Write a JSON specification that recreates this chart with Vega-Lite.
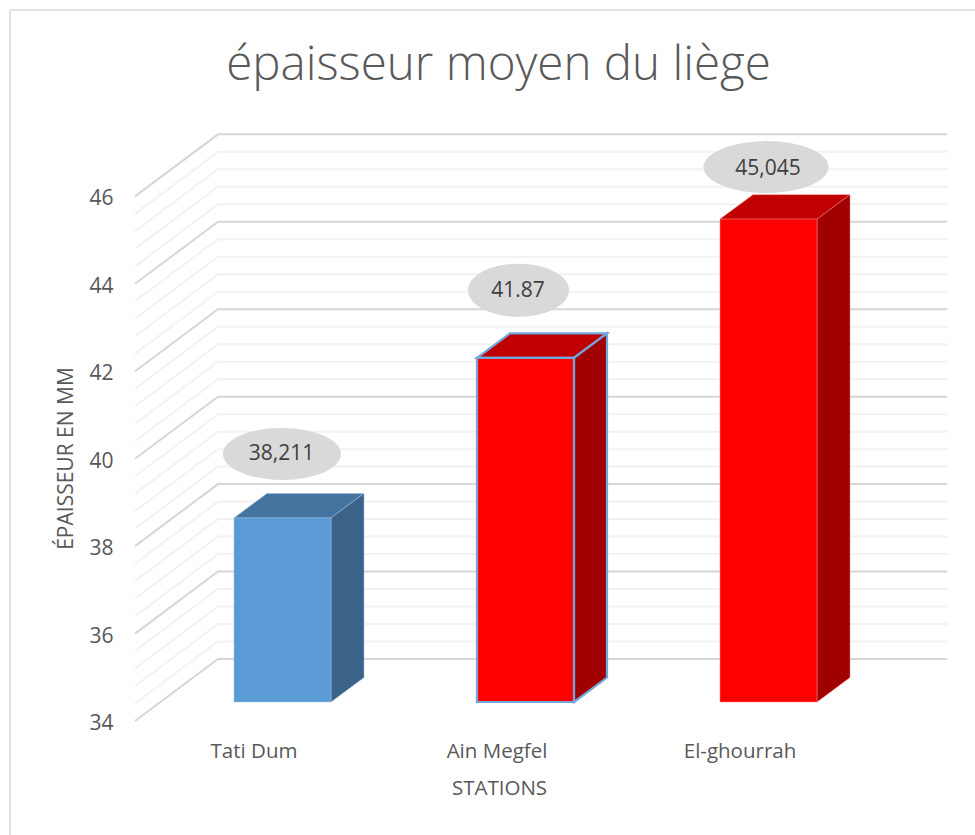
{"$schema":"https://vega.github.io/schema/vega-lite/v6.json","width":965,"height":825,"autosize":"none","padding":{"left":10,"top":10,"right":0,"bottom":0},"background":"white","config":{"view":{"stroke":null},"font":"Open Sans","legend":{"disable":true}},
"title":{"text":"épaisseur moyen du liège","anchor":"middle","frame":"group","dx":6,"dy":48,"offset":-70,"baseline":"alphabetic","fontSize":47.5,"fontWeight":300,"font":"Open Sans","color":"#595959"},
"datasets":{
"bars":[{"station":"Tati Dum","pos":1,"left":0.8004,"right":1.1996,"base":34,"value":38.211,"label":"38,211","part":"Tati Dum front"},{"station":"Ain Megfel","pos":2,"left":1.8004,"right":2.1996,"base":34,"value":41.87,"label":"41.87","part":"Ain Megfel front"},{"station":"El-ghourrah","pos":3,"left":2.8004,"right":3.1996,"base":34,"value":45.045,"label":"45,045","part":"El-ghourrah front"}],
"tops":[{"station":"Tati Dum","part":"Tati Dum top","y":38.211,"xa":0.8004,"xb":1.1996},{"station":"Tati Dum","part":"Tati Dum top","y":38.771,"xa":0.9362,"xb":1.3354},{"station":"Ain Megfel","part":"Ain Megfel top","y":41.87,"xa":1.8004,"xb":2.1996},{"station":"Ain Megfel","part":"Ain Megfel top","y":42.43,"xa":1.9362,"xb":2.3354},{"station":"El-ghourrah","part":"El-ghourrah top","y":45.045,"xa":2.8004,"xb":3.1996},{"station":"El-ghourrah","part":"El-ghourrah top","y":45.605,"xa":2.9362,"xb":3.3354}],
"sides":[{"station":"Tati Dum","part":"Tati Dum side","x":1.1996,"ya":34,"yb":38.211},{"station":"Tati Dum","part":"Tati Dum side","x":1.3354,"ya":34.56,"yb":38.771},{"station":"Ain Megfel","part":"Ain Megfel side","x":2.1996,"ya":34,"yb":41.87},{"station":"Ain Megfel","part":"Ain Megfel side","x":2.3354,"ya":34.56,"yb":42.43},{"station":"El-ghourrah","part":"El-ghourrah side","x":3.1996,"ya":34,"yb":45.045},{"station":"El-ghourrah","part":"El-ghourrah side","x":3.3354,"ya":34.56,"yb":45.605}],
"grid":[
{"g":34,"k":"major","x":0.393,"y":33.565},{"g":34,"k":"major","x":0.7346,"y":34.984},{"g":34,"k":"major","x":3.736,"y":34.984},
{"g":34.4,"k":"minor","x":0.393,"y":33.965},{"g":34.4,"k":"minor","x":0.7346,"y":35.384},{"g":34.4,"k":"minor","x":3.736,"y":35.384},
{"g":34.8,"k":"minor","x":0.393,"y":34.365},{"g":34.8,"k":"minor","x":0.7346,"y":35.784},{"g":34.8,"k":"minor","x":3.736,"y":35.784},
{"g":35.2,"k":"minor","x":0.393,"y":34.765},{"g":35.2,"k":"minor","x":0.7346,"y":36.184},{"g":35.2,"k":"minor","x":3.736,"y":36.184},
{"g":35.6,"k":"minor","x":0.393,"y":35.165},{"g":35.6,"k":"minor","x":0.7346,"y":36.584},{"g":35.6,"k":"minor","x":3.736,"y":36.584},
{"g":36,"k":"major","x":0.393,"y":35.565},{"g":36,"k":"major","x":0.7346,"y":36.984},{"g":36,"k":"major","x":3.736,"y":36.984},
{"g":36.4,"k":"minor","x":0.393,"y":35.965},{"g":36.4,"k":"minor","x":0.7346,"y":37.384},{"g":36.4,"k":"minor","x":3.736,"y":37.384},
{"g":36.8,"k":"minor","x":0.393,"y":36.365},{"g":36.8,"k":"minor","x":0.7346,"y":37.784},{"g":36.8,"k":"minor","x":3.736,"y":37.784},
{"g":37.2,"k":"minor","x":0.393,"y":36.765},{"g":37.2,"k":"minor","x":0.7346,"y":38.184},{"g":37.2,"k":"minor","x":3.736,"y":38.184},
{"g":37.6,"k":"minor","x":0.393,"y":37.165},{"g":37.6,"k":"minor","x":0.7346,"y":38.584},{"g":37.6,"k":"minor","x":3.736,"y":38.584},
{"g":38,"k":"major","x":0.393,"y":37.565},{"g":38,"k":"major","x":0.7346,"y":38.984},{"g":38,"k":"major","x":3.736,"y":38.984},
{"g":38.4,"k":"minor","x":0.393,"y":37.965},{"g":38.4,"k":"minor","x":0.7346,"y":39.384},{"g":38.4,"k":"minor","x":3.736,"y":39.384},
{"g":38.8,"k":"minor","x":0.393,"y":38.365},{"g":38.8,"k":"minor","x":0.7346,"y":39.784},{"g":38.8,"k":"minor","x":3.736,"y":39.784},
{"g":39.2,"k":"minor","x":0.393,"y":38.765},{"g":39.2,"k":"minor","x":0.7346,"y":40.184},{"g":39.2,"k":"minor","x":3.736,"y":40.184},
{"g":39.6,"k":"minor","x":0.393,"y":39.165},{"g":39.6,"k":"minor","x":0.7346,"y":40.584},{"g":39.6,"k":"minor","x":3.736,"y":40.584},
{"g":40,"k":"major","x":0.393,"y":39.565},{"g":40,"k":"major","x":0.7346,"y":40.984},{"g":40,"k":"major","x":3.736,"y":40.984},
{"g":40.4,"k":"minor","x":0.393,"y":39.965},{"g":40.4,"k":"minor","x":0.7346,"y":41.384},{"g":40.4,"k":"minor","x":3.736,"y":41.384},
{"g":40.8,"k":"minor","x":0.393,"y":40.365},{"g":40.8,"k":"minor","x":0.7346,"y":41.784},{"g":40.8,"k":"minor","x":3.736,"y":41.784},
{"g":41.2,"k":"minor","x":0.393,"y":40.765},{"g":41.2,"k":"minor","x":0.7346,"y":42.184},{"g":41.2,"k":"minor","x":3.736,"y":42.184},
{"g":41.6,"k":"minor","x":0.393,"y":41.165},{"g":41.6,"k":"minor","x":0.7346,"y":42.584},{"g":41.6,"k":"minor","x":3.736,"y":42.584},
{"g":42,"k":"major","x":0.393,"y":41.565},{"g":42,"k":"major","x":0.7346,"y":42.984},{"g":42,"k":"major","x":3.736,"y":42.984},
{"g":42.4,"k":"minor","x":0.393,"y":41.965},{"g":42.4,"k":"minor","x":0.7346,"y":43.384},{"g":42.4,"k":"minor","x":3.736,"y":43.384},
{"g":42.8,"k":"minor","x":0.393,"y":42.365},{"g":42.8,"k":"minor","x":0.7346,"y":43.784},{"g":42.8,"k":"minor","x":3.736,"y":43.784},
{"g":43.2,"k":"minor","x":0.393,"y":42.765},{"g":43.2,"k":"minor","x":0.7346,"y":44.184},{"g":43.2,"k":"minor","x":3.736,"y":44.184},
{"g":43.6,"k":"minor","x":0.393,"y":43.165},{"g":43.6,"k":"minor","x":0.7346,"y":44.584},{"g":43.6,"k":"minor","x":3.736,"y":44.584},
{"g":44,"k":"major","x":0.393,"y":43.565},{"g":44,"k":"major","x":0.7346,"y":44.984},{"g":44,"k":"major","x":3.736,"y":44.984},
{"g":44.4,"k":"minor","x":0.393,"y":43.965},{"g":44.4,"k":"minor","x":0.7346,"y":45.384},{"g":44.4,"k":"minor","x":3.736,"y":45.384},
{"g":44.8,"k":"minor","x":0.393,"y":44.365},{"g":44.8,"k":"minor","x":0.7346,"y":45.784},{"g":44.8,"k":"minor","x":3.736,"y":45.784},
{"g":45.2,"k":"minor","x":0.393,"y":44.765},{"g":45.2,"k":"minor","x":0.7346,"y":46.184},{"g":45.2,"k":"minor","x":3.736,"y":46.184},
{"g":45.6,"k":"minor","x":0.393,"y":45.165},{"g":45.6,"k":"minor","x":0.7346,"y":46.584},{"g":45.6,"k":"minor","x":3.736,"y":46.584},
{"g":46,"k":"major","x":0.393,"y":45.565},{"g":46,"k":"major","x":0.7346,"y":46.984},{"g":46,"k":"major","x":3.736,"y":46.984}
]},
"layer":[
{"data":{"name":"grid"},"transform":[{"filter":"datum.k==='minor'"}],"mark":{"type":"line","stroke":"#F2F2F2","strokeWidth":2},"encoding":{"x":{"field":"x","type":"quantitative","scale":{"domain":[-0.1214,3.8498],"nice":false,"zero":false},
"axis":{"values":[1,2,3],"labelExpr":"datum.value==1?'Tati Dum':datum.value==2?'Ain Megfel':'El-ghourrah'","domain":false,"ticks":false,"grid":false,"offset":-84,"labelPadding":0,"labelBaseline":"middle","labelOffset":-29,"labelFontSize":20.5,"labelColor":"#595959","labelFont":"Open Sans","title":"STATIONS","titleFont":"Open Sans","titleFontWeight":400,"titleFontSize":20.5,"titleColor":"#595959","titleX":489,"titleY":37,"titleBaseline":"middle","titleAlign":"center"}},
"y":{"field":"y","type":"quantitative","scale":{"domain":[30.958,49.828],"nice":false,"zero":false},
"axis":{"values":[34,36,38,40,42,44,46],"domain":false,"ticks":false,"grid":false,"offset":-103,"labelPadding":0,"labelOffset":21.5,"labelFontSize":21,"labelColor":"#595959","labelFont":"Open Sans","title":"ÉPAISSEUR EN MM","titleFont":"Open Sans","titleFontWeight":400,"titleFontSize":21,"titleColor":"#595959","titleX":-47,"titleY":448,"titleAngle":270,"titleBaseline":"middle","titleAlign":"center"}},"detail":{"field":"g"}}},
{"data":{"name":"grid"},"transform":[{"filter":"datum.k==='major'"}],"mark":{"type":"line","stroke":"#D6D6D6","strokeWidth":2},"encoding":{"x":{"field":"x","type":"quantitative"},"y":{"field":"y","type":"quantitative"},"detail":{"field":"g"}}},
{"data":{"values":[{"edge":"left"}]},"mark":{"type":"rule","stroke":"#D9D9D9","strokeWidth":1.5},"encoding":{"x":{"datum":-0.1214}}},
{"data":{"values":[{"edge":"top"}]},"mark":{"type":"rule","stroke":"#D9D9D9","strokeWidth":1.5},"encoding":{"y":{"datum":49.828}}},
{"data":{"name":"tops"},"mark":{"type":"area","orient":"horizontal","opacity":1},"encoding":{"y":{"field":"y","type":"quantitative"},"x":{"field":"xa","type":"quantitative"},"x2":{"field":"xb"},"fill":{"field":"part","type":"nominal","legend":null,"scale":{"domain":["Tati Dum front","Tati Dum top","Tati Dum side","Ain Megfel front","Ain Megfel top","Ain Megfel side","El-ghourrah front","El-ghourrah top","El-ghourrah side"],"range":["#5B9BD5","#44739F","#3A6387","#FF0000","#C00000","#A00000","#FF0000","#C00000","#A00000"]}},"stroke":{"field":"station","type":"nominal","legend":null,"scale":{"domain":["Tati Dum","Ain Megfel","El-ghourrah"],"range":["#9DC3E6","#6FA8DC","#FF8080"]}},"strokeWidth":{"condition":{"test":"datum.station==='Ain Megfel'","value":2.2},"value":0.5}}},
{"data":{"name":"sides"},"mark":{"type":"area","orient":"vertical","opacity":1},"encoding":{"x":{"field":"x","type":"quantitative"},"y":{"field":"ya","type":"quantitative"},"y2":{"field":"yb"},"fill":{"field":"part","type":"nominal","legend":null},"stroke":{"field":"station","type":"nominal","legend":null},"strokeWidth":{"condition":{"test":"datum.station==='Ain Megfel'","value":2.2},"value":0.5}}},
{"data":{"name":"bars"},"mark":{"type":"rect"},"encoding":{"x":{"field":"left","type":"quantitative"},"x2":{"field":"right"},"y":{"field":"base","type":"quantitative"},"y2":{"field":"value"},"fill":{"field":"part","type":"nominal","legend":null},"stroke":{"field":"station","type":"nominal","legend":null},"strokeWidth":{"condition":{"test":"datum.station==='Ain Megfel'","value":2.2},"value":0.5}}},
{"data":{"name":"bars"},"transform":[{"filter":"datum.pos==1"}],"encoding":{"x":{"field":"pos","type":"quantitative"},"y":{"field":"value","type":"quantitative"}},"layer":[{"mark":{"type":"point","filled":true,"opacity":1,"fill":"#D9D9D9","stroke":null,"size":13924,"yOffset":-64,"xOffset":-0.5,"shape":"M-1,0 C-1,-0.2434 -0.5523,-0.4407 0,-0.4407 C0.5523,-0.4407 1,-0.2434 1,0 C1,0.2434 0.5523,0.4407 0,0.4407 C-0.5523,0.4407 -1,0.2434 -1,0 Z"}},{"mark":{"type":"text","font":"Open Sans","fontSize":21,"color":"#404040","baseline":"middle","yOffset":-64,"xOffset":-1},"encoding":{"text":{"field":"label"}}}]},
{"data":{"name":"bars"},"transform":[{"filter":"datum.pos==2"}],"encoding":{"x":{"field":"pos","type":"quantitative"},"y":{"field":"value","type":"quantitative"}},"layer":[{"mark":{"type":"point","filled":true,"opacity":1,"fill":"#D9D9D9","stroke":null,"size":10201,"yOffset":-67.7,"xOffset":-7,"shape":"M-1,0 C-1,-0.2898 -0.5523,-0.5248 0,-0.5248 C0.5523,-0.5248 1,-0.2898 1,0 C1,0.2898 0.5523,0.5248 0,0.5248 C-0.5523,0.5248 -1,0.2898 -1,0 Z"}},{"mark":{"type":"text","font":"Open Sans","fontSize":21,"color":"#404040","baseline":"middle","yOffset":-67,"xOffset":-7.5},"encoding":{"text":{"field":"label"}}}]},
{"data":{"name":"bars"},"transform":[{"filter":"datum.pos==3"}],"encoding":{"x":{"field":"pos","type":"quantitative"},"y":{"field":"value","type":"quantitative"}},"layer":[{"mark":{"type":"point","filled":true,"opacity":1,"fill":"#D9D9D9","stroke":null,"size":15625,"yOffset":-52,"xOffset":-2.5,"shape":"M-1,0 C-1,-0.2298 -0.5523,-0.416 0,-0.416 C0.5523,-0.416 1,-0.2298 1,0 C1,0.2298 0.5523,0.416 0,0.416 C-0.5523,0.416 -1,0.2298 -1,0 Z"}},{"mark":{"type":"text","font":"Open Sans","fontSize":21,"color":"#404040","baseline":"middle","yOffset":-50,"xOffset":-0.5},"encoding":{"text":{"field":"label"}}}]}
]}
